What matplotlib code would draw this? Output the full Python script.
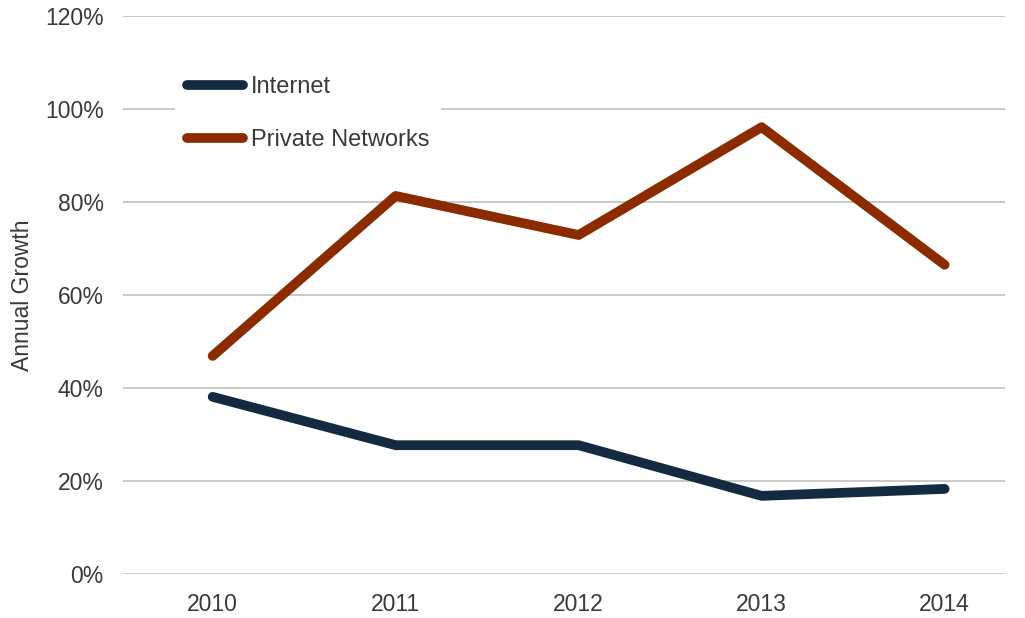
import numpy as np
import matplotlib.pyplot as plt
from matplotlib.ticker import FuncFormatter

# Crecimiento anual por tipo de red
years = ['2010', '2011', '2012', '2013', '2014']
internet = [38.1, 27.7, 27.7, 16.8, 18.3]
private_networks = [46.9, 81.3, 72.9, 96.1, 66.5]

plt.rcParams['font.family'] = ['Liberation Sans', 'DejaVu Sans']
text_color = '#3a3a3a'

fig = plt.figure(figsize=(10.25, 6.18), dpi=100)
ax = fig.add_axes([123/1025, 1 - 574/618, 882/1025, (574 - 16)/618])

x = np.arange(len(years))
ax.plot(x, internet, color='#132a40', lw=7, solid_capstyle='round',
        solid_joinstyle='round', label='Internet', zorder=3)
ax.plot(x, private_networks, color='#8a2b00', lw=7, solid_capstyle='round',
        solid_joinstyle='round', label='Private Networks', zorder=3)

# el eje x sigue mas alla del borde derecho
ax.set_xlim(-0.49, 4.33)
ax.set_ylim(0, 120)
ax.set_xticks(x)
ax.set_xticklabels(years)
ax.set_yticks(np.arange(0, 121, 20))
ax.yaxis.set_major_formatter(FuncFormatter(lambda v, p: f'{v:.0f}%'))
ax.grid(axis='y', color='#c9c9c9', lw=1.4)
ax.set_axisbelow(True)
for s in ax.spines.values():
    s.set_visible(False)
ax.tick_params(length=0, labelsize=16.5, colors=text_color)
ax.tick_params(axis='x', pad=14)
ax.tick_params(axis='y', pad=14)
ax.set_ylabel('Annual Growth', fontsize=16.5, color=text_color, labelpad=8)

leg = ax.legend(loc='upper left', bbox_to_anchor=(175/1025, 1 - 64/618),
                bbox_transform=fig.transFigure, frameon=True, fancybox=False,
                facecolor='white', edgecolor='none', framealpha=1,
                fontsize=17, handlelength=2.4, handletextpad=0.3,
                labelspacing=1.32, borderpad=0.5, borderaxespad=0)
for t in leg.get_texts():
    t.set_color(text_color)

fig.savefig('out.png', dpi=100, facecolor='white')
